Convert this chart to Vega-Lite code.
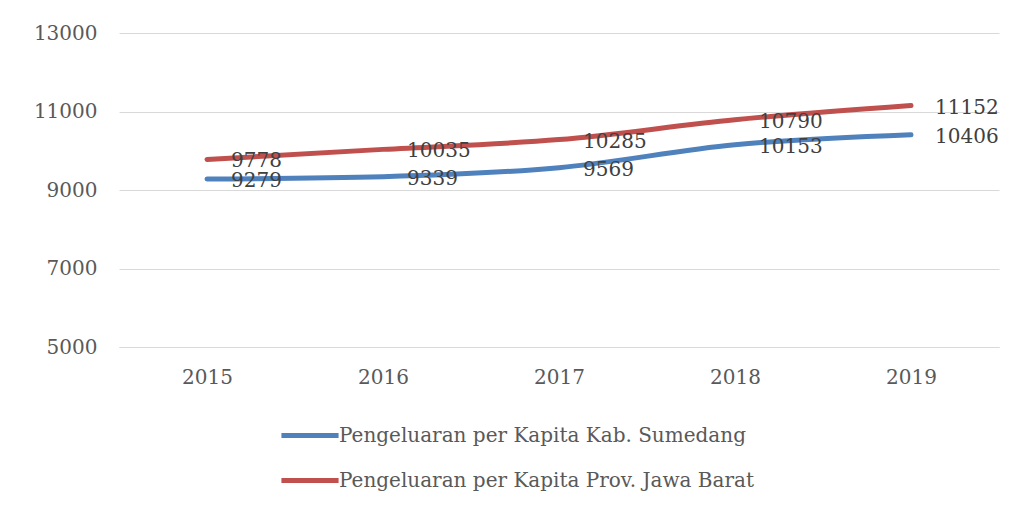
{
  "$schema": "https://vega.github.io/schema/vega-lite/v6.json",
  "width": 880,
  "height": 314,
  "autosize": {"type": "none"},
  "padding": {"left": 119, "top": 33, "right": 17, "bottom": 161},
  "config": {"view": {"stroke": null}, "font": "DejaVu Serif"},
  "data": {
    "values": [
      {"year": "2015", "series": "Pengeluaran per Kapita Kab. Sumedang", "value": 9279},
      {"year": "2016", "series": "Pengeluaran per Kapita Kab. Sumedang", "value": 9339},
      {"year": "2017", "series": "Pengeluaran per Kapita Kab. Sumedang", "value": 9569},
      {"year": "2018", "series": "Pengeluaran per Kapita Kab. Sumedang", "value": 10153},
      {"year": "2019", "series": "Pengeluaran per Kapita Kab. Sumedang", "value": 10406},
      {"year": "2015", "series": "Pengeluaran per Kapita Prov. Jawa Barat", "value": 9778},
      {"year": "2016", "series": "Pengeluaran per Kapita Prov. Jawa Barat", "value": 10035},
      {"year": "2017", "series": "Pengeluaran per Kapita Prov. Jawa Barat", "value": 10285},
      {"year": "2018", "series": "Pengeluaran per Kapita Prov. Jawa Barat", "value": 10790},
      {"year": "2019", "series": "Pengeluaran per Kapita Prov. Jawa Barat", "value": 11152}
    ]
  },
  "encoding": {
    "x": {
      "field": "year", "type": "ordinal",
      "scale": {"type": "point", "padding": 0.5},
      "axis": {"title": null, "ticks": false, "domainColor": "#d9d9d9", "labelPadding": 20, "labelFontSize": 20, "labelColor": "#595959", "labelAngle": 0, "grid": false}
    },
    "y": {
      "field": "value", "type": "quantitative",
      "scale": {"domain": [5000, 13000], "nice": false, "zero": false},
      "axis": {"title": null, "values": [5000, 7000, 9000, 11000, 13000], "domain": false, "ticks": false, "gridColor": "#d9d9d9", "labelPadding": 22, "labelFontSize": 20, "labelColor": "#595959", "format": "d"}
    },
    "color": {
      "field": "series", "type": "nominal",
      "scale": {"domain": ["Pengeluaran per Kapita Kab. Sumedang", "Pengeluaran per Kapita Prov. Jawa Barat"], "range": ["#4F81BD", "#C0504D"]},
      "legend": {
        "title": null, "orient": "none", "legendX": 166, "legendY": 377.5, "direction": "vertical",
        "symbolType": "M-1.27,0H1.27", "symbolSize": 2025, "symbolStrokeWidth": 5,
        "labelFontSize": 20, "labelColor": "#595959", "labelOffset": 4, "rowPadding": 10, "padding": 0, "labelLimit": 600
      }
    }
  },
  "layer": [
    {"mark": {"type": "line", "interpolate": "monotone", "strokeWidth": 5, "strokeCap": "round"}},
    {
      "mark": {"type": "text", "align": "left", "baseline": "middle", "dx": 24, "dy": 2, "fontSize": 20},
      "encoding": {"text": {"field": "value", "type": "quantitative", "format": "d"}, "color": {"value": "#404040"}}
    }
  ]
}
